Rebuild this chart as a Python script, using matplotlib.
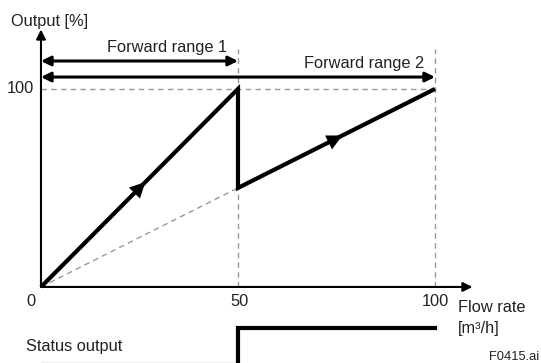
import matplotlib.pyplot as plt

plt.rcParams['font.family'] = ['Liberation Sans', 'DejaVu Sans']

# flow rate vs output curve
flow = [0, 50, 50, 100]
output = [0, 100, 50, 100]
x_ticks = [0, 50, 100]
y_ticks = [100]
range1 = (0, 50)
range2 = (0, 100)
status_high = -20.7
status_low = -38.5

TXT = '#222222'


def main():
    fig = plt.figure(figsize=(5.41, 3.63), dpi=100)
    ax = fig.add_axes([0, 0, 1, 1])
    ax.set_xlim(-10.4, 126.9)
    ax.set_ylim(-38.4, 144.9)
    ax.axis('off')

    dash = dict(color='#999999', lw=1.0, ls=(0, (4, 3)))
    # guide lines
    ax.plot([0, 100], [100, 100], **dash)
    ax.plot([50, 50], [0, 120], **dash)
    ax.plot([100, 100], [0, 120], **dash)
    ax.plot([0, 50], [0, 50], **dash)

    # axes with arrows
    ax.annotate('', xy=(0, 130), xytext=(0, 0),
                arrowprops=dict(arrowstyle='-|>', lw=1.5, color='black', mutation_scale=14, shrinkA=0, shrinkB=0))
    ax.annotate('', xy=(109.5, 0), xytext=(0, 0),
                arrowprops=dict(arrowstyle='-|>', lw=1.5, color='black', mutation_scale=14, shrinkA=0, shrinkB=0))

    # main curve
    ax.plot(flow, output, color='black', lw=3, solid_joinstyle='miter', solid_capstyle='butt')
    for (x0, y0, x1, y1) in [(0, 0, 50, 100), (50, 50, 100, 100)]:
        mx, my = (x0 + x1) / 2, (y0 + y1) / 2
        dx, dy = (x1 - x0) * 0.03, (y1 - y0) * 0.03
        ax.annotate('', xy=(mx + dx, my + dy), xytext=(mx - dx, my - dy),
                    arrowprops=dict(arrowstyle='-|>', lw=0, color='black', mutation_scale=28, shrinkA=0, shrinkB=0))

    # range arrows
    for (a, b), yv, label in [(range1, 114.1, 'Forward range 1'), (range2, 106, 'Forward range 2')]:
        ax.annotate('', xy=(b, yv), xytext=(a, yv),
                    arrowprops=dict(arrowstyle='<|-|>', lw=2.2, color='black', mutation_scale=14, shrinkA=0, shrinkB=0))
        ax.text(b - 2.7, yv + 6.8, label, ha='right', va='center', fontsize=11.8, color=TXT)

    # tick labels
    ax.text(-2.5, -7.5, '0', ha='center', va='center', fontsize=11.8, color=TXT)
    ax.text(50.5, -7.5, '50', ha='center', va='center', fontsize=11.8, color=TXT)
    ax.text(100.2, -7.5, '100', ha='center', va='center', fontsize=11.8, color=TXT)
    ax.text(-1.8, 100, '100', ha='right', va='center', fontsize=11.8, color=TXT)

    ax.text(-7.5, 134, 'Output [%]', ha='left', va='center', fontsize=11.8, color=TXT)
    ax.text(105.8, -10.5, 'Flow rate', ha='left', va='center', fontsize=11.8, color=TXT)
    ax.text(105.8, -20.8, '[m³/h]', ha='left', va='center', fontsize=11.8, color=TXT)

    # status output
    ax.plot([0, 50], [status_low, status_low], color='#bbbbbb', lw=1)
    ax.plot([50, 50, 100], [-45, status_high, status_high], color='black', lw=3, solid_joinstyle='miter')
    ax.text(-3.8, -30.3, 'Status output', ha='left', va='center', fontsize=11.8, color=TXT)
    ax.text(113.6, -35.4, 'F0415.ai', ha='left', va='center', fontsize=9.3, color=TXT)

    fig.savefig('out.png', dpi=100)


if __name__ == '__main__':
    main()
